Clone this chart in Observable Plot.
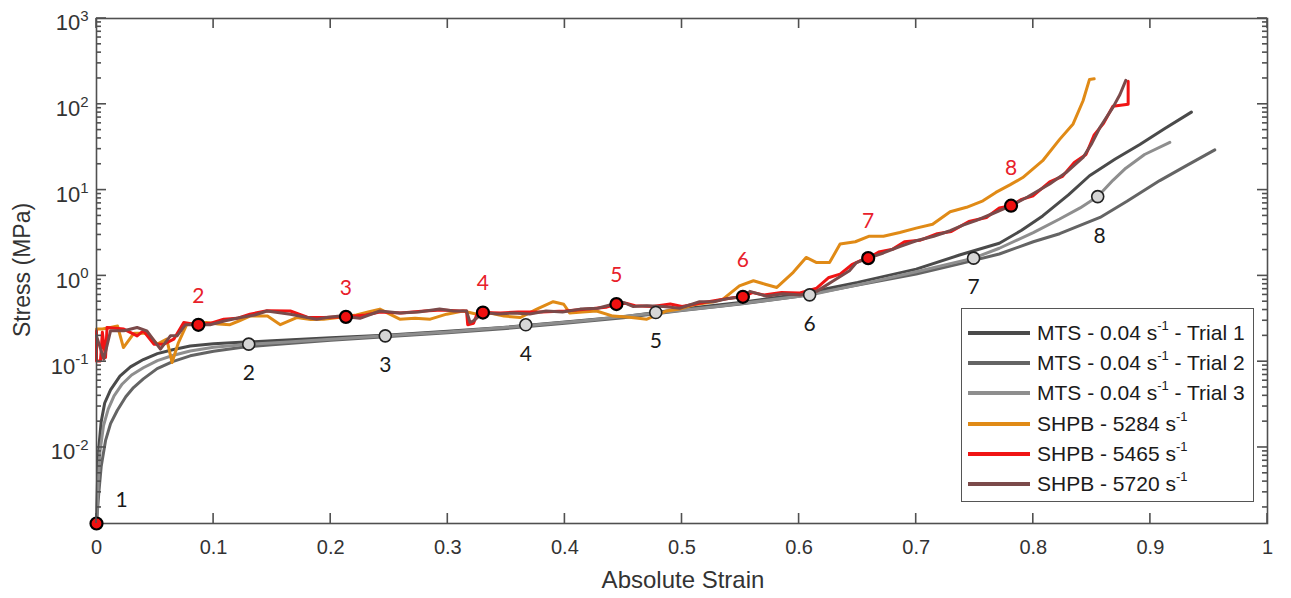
<!DOCTYPE html>
<html>
<head>
<meta charset="utf-8">
<script src="https://cdn.jsdelivr.net/npm/d3@7"></script>
<script src="https://cdn.jsdelivr.net/npm/@observablehq/plot@0.6"></script>
<style>
  body { margin: 0; background: #fff; }
  #wrap { position: relative; width: 1291px; height: 598px; font-family: "Liberation Sans", Arial, sans-serif; overflow: hidden; }
  #chart { position: absolute; left: 0; top: 0; }
  .legend { position: absolute; left: 961px; top: 308px; width: 293px; height: 194px; border: 1.5px solid #555; background: #fff; box-sizing: border-box; }
  .row { position: absolute; left: 0; height: 30px; display: flex; align-items: center; font-size: 21px; color: #1a1a1a; white-space: nowrap; }
  .sw { width: 62px; height: 4px; margin-left: 6px; margin-right: 7px; }
  .row sup { font-size: 13px; position: relative; top: -2px; vertical-align: top; line-height: 1; }
  .ylab { position: absolute; left: 22px; top: 270px; transform: translate(-50%, -50%) rotate(-90deg); font-size: 23px; color: #333; white-space: nowrap; }
  .xlab { position: absolute; left: 683px; top: 580px; transform: translate(-50%, -50%); font-size: 24px; color: #333; white-space: nowrap; }
</style>
</head>
<body>
<div id="wrap"><div id="chart"></div></div>
<script>
// ---------------- data ----------------
const xTicks = [0, 0.1, 0.2, 0.3, 0.4, 0.5, 0.6, 0.7, 0.8, 0.9, 1];
const yTickPowers = [-2, -1, 0, 1, 2, 3];
const yDomain = [0.0013, 1000];

const seriesNames = ["MTS - 0.04 s^-1 - Trial 1", "MTS - 0.04 s^-1 - Trial 2", "MTS - 0.04 s^-1 - Trial 3",
                     "SHPB - 5284 s^-1", "SHPB - 5465 s^-1", "SHPB - 5720 s^-1"];
const seriesColors = ["#4a4a4a", "#646464", "#8e8e8e", "#e08a16", "#f01414", "#7b4a4a"];

const mtsTrial1 = [[0,0.0013],[0.001,0.005],[0.002,0.01],[0.004,0.02],[0.007,0.033],[0.012,0.047],[0.02,0.068],[0.029,0.087],[0.04,0.106],[0.052,0.124],[0.065,0.138],[0.08,0.152],[0.1,0.162],[0.123,0.168],[0.15,0.175],[0.2,0.19],[0.25,0.205],[0.3,0.226],[0.35,0.252],[0.4,0.29],[0.45,0.335],[0.5,0.41],[0.55,0.49],[0.6,0.61],[0.65,0.84],[0.7,1.2],[0.737,1.75],[0.771,2.4],[0.79,3.4],[0.808,5.0],[0.83,8.8],[0.848,14.7],[0.87,23],[0.891,34],[0.912,52],[0.935,81]];
const mtsTrial2 = [[0,0.0013],[0.002,0.003],[0.004,0.006],[0.0077,0.012],[0.012,0.019],[0.0177,0.027],[0.025,0.039],[0.0316,0.05],[0.04,0.063],[0.0518,0.083],[0.065,0.1],[0.08,0.117],[0.1,0.132],[0.123,0.146],[0.15,0.158],[0.2,0.178],[0.25,0.196],[0.3,0.217],[0.35,0.244],[0.4,0.28],[0.45,0.325],[0.5,0.395],[0.55,0.47],[0.6,0.58],[0.65,0.78],[0.7,1.05],[0.737,1.38],[0.771,1.8],[0.8,2.5],[0.8225,3.1],[0.857,4.8],[0.88,7.4],[0.908,12.9],[0.93,19],[0.955,29.4]];
const mtsTrial3 = [[0,0.0013],[0.0015,0.004],[0.003,0.009],[0.006,0.018],[0.01,0.028],[0.015,0.04],[0.022,0.055],[0.03,0.07],[0.04,0.085],[0.052,0.103],[0.065,0.118],[0.08,0.133],[0.1,0.147],[0.13,0.16],[0.16,0.168],[0.2,0.183],[0.2466,0.2],[0.3,0.222],[0.3666,0.262],[0.42,0.305],[0.4776,0.37],[0.53,0.44],[0.609,0.6],[0.66,0.84],[0.7,1.12],[0.749,1.61],[0.771,2.1],[0.8,3.2],[0.8225,4.6],[0.84,6.2],[0.855,8.4],[0.868,13],[0.879,18],[0.895,26],[0.9166,36]];

const shpb5284 = [[0,0.24],[0.005,0.24],[0.012,0.25],[0.018,0.26],[0.023,0.146],[0.032,0.215],[0.043,0.215],[0.052,0.16],[0.060,0.183],[0.0645,0.098],[0.070,0.167],[0.077,0.27],[0.085,0.28],[0.094,0.286],[0.104,0.275],[0.114,0.27],[0.122,0.3],[0.131,0.34],[0.146,0.34],[0.157,0.27],[0.171,0.327],[0.183,0.31],[0.194,0.313],[0.208,0.33],[0.222,0.35],[0.232,0.38],[0.242,0.41],[0.25,0.36],[0.259,0.313],[0.272,0.32],[0.285,0.313],[0.299,0.358],[0.313,0.39],[0.324,0.36],[0.336,0.37],[0.348,0.34],[0.362,0.327],[0.376,0.41],[0.39,0.5],[0.399,0.467],[0.404,0.37],[0.415,0.38],[0.427,0.39],[0.441,0.34],[0.455,0.33],[0.47,0.313],[0.487,0.39],[0.498,0.41],[0.51,0.46],[0.527,0.5],[0.535,0.536],[0.549,0.766],[0.561,0.877],[0.571,0.8],[0.581,0.733],[0.595,1.1],[0.606,1.64],[0.615,1.43],[0.626,1.43],[0.635,2.35],[0.648,2.5],[0.66,2.9],[0.672,2.9],[0.686,3.2],[0.7,3.6],[0.714,4.0],[0.729,5.6],[0.743,6.3],[0.757,7.5],[0.768,9.4],[0.78,11.5],[0.791,14],[0.808,22],[0.8225,39],[0.834,59],[0.8425,110],[0.848,195],[0.852,198]];
const shpb5465 = [[0,0.229],[0,0.102],[0.0034,0.102],[0.005,0.22],[0.0077,0.112],[0.009,0.25],[0.0233,0.24],[0.0347,0.2],[0.04,0.229],[0.049,0.16],[0.0575,0.16],[0.066,0.183],[0.0745,0.286],[0.086,0.27],[0.097,0.28],[0.1087,0.313],[0.12,0.32],[0.131,0.358],[0.1456,0.392],[0.1655,0.39],[0.18,0.33],[0.194,0.327],[0.213,0.333],[0.23,0.35],[0.242,0.38],[0.26,0.37],[0.28,0.39],[0.295,0.4],[0.31,0.39],[0.316,0.39],[0.317,0.27],[0.322,0.28],[0.325,0.36],[0.33,0.374],[0.345,0.37],[0.36,0.38],[0.38,0.38],[0.4,0.39],[0.42,0.41],[0.435,0.43],[0.444,0.469],[0.452,0.48],[0.46,0.45],[0.475,0.44],[0.49,0.47],[0.5,0.44],[0.515,0.48],[0.53,0.52],[0.545,0.56],[0.552,0.57],[0.56,0.64],[0.57,0.6],[0.585,0.64],[0.6,0.63],[0.615,0.72],[0.625,0.95],[0.635,1.05],[0.645,1.35],[0.652,1.5],[0.659,1.61],[0.668,1.9],[0.68,2.05],[0.69,2.5],[0.703,2.6],[0.718,3.1],[0.73,3.3],[0.745,4.3],[0.76,4.8],[0.771,6.2],[0.781,6.58],[0.79,7.8],[0.8,8.6],[0.814,12.5],[0.825,14.5],[0.835,21],[0.845,26],[0.852,44],[0.86,60],[0.868,95],[0.881,100],[0.881,185]];
const shpb5720 = [[0,0.2],[0.0062,0.107],[0.012,0.229],[0.0233,0.229],[0.0347,0.25],[0.043,0.229],[0.0546,0.14],[0.0631,0.2],[0.0688,0.2],[0.076,0.27],[0.087,0.269],[0.097,0.27],[0.11,0.3],[0.123,0.327],[0.135,0.35],[0.1456,0.39],[0.1655,0.358],[0.188,0.313],[0.198,0.33],[0.208,0.34],[0.213,0.333],[0.225,0.32],[0.242,0.39],[0.259,0.37],[0.275,0.38],[0.293,0.41],[0.305,0.39],[0.316,0.39],[0.319,0.286],[0.322,0.3],[0.33,0.374],[0.343,0.36],[0.356,0.37],[0.37,0.36],[0.384,0.39],[0.398,0.38],[0.413,0.41],[0.428,0.42],[0.441,0.467],[0.45,0.49],[0.458,0.44],[0.47,0.45],[0.484,0.44],[0.498,0.42],[0.515,0.5],[0.527,0.5],[0.538,0.54],[0.552,0.57],[0.558,0.66],[0.572,0.58],[0.586,0.62],[0.601,0.6],[0.615,0.66],[0.629,0.87],[0.643,1.15],[0.649,1.43],[0.659,1.61],[0.672,1.85],[0.686,2.2],[0.7,2.57],[0.715,2.9],[0.729,3.36],[0.74,3.9],[0.751,4.4],[0.765,5.3],[0.781,6.58],[0.795,8.3],[0.814,11.8],[0.828,16],[0.8425,24],[0.85,35],[0.857,54],[0.868,92],[0.874,130],[0.879,190]];

const pointLabels = ["1", "2", "3", "4", "5", "6", "7", "8"];
const shpbPointStrain = [0, 0.087, 0.213, 0.330, 0.444, 0.552, 0.659, 0.781];
const shpbPointStress = [0.0013, 0.269, 0.333, 0.374, 0.469, 0.57, 1.61, 6.58];
const mtsPointStrain = [0, 0.130, 0.2466, 0.3666, 0.4776, 0.609, 0.749, 0.855];
const mtsPointStress = [0.0013, 0.160, 0.200, 0.269, 0.374, 0.601, 1.61, 8.4];

// ---------------- build ----------------
const W = 1291, H = 598, mL = 96, mR = 24, mT = 18, mB = 75;
const axisColor = "#505050";

const majorY = yTickPowers.map(p => Math.pow(10, p));
const minorY = [];
for (let p = -3; p < 3; p++) for (let k = 2; k <= 9; k++) {
  const v = k * Math.pow(10, p);
  if (v >= yDomain[0] && v <= yDomain[1]) minorY.push(v);
}

const allSeries = [mtsTrial1, mtsTrial2, mtsTrial3, shpb5284, shpb5465, shpb5720];
const lineMarks = allSeries.map((s, i) => Plot.line(s, {x: d => d[0], y: d => d[1], stroke: seriesColors[i], strokeWidth: 3, strokeLinejoin: "round"}));

const redPts = shpbPointStrain.map((x, i) => ({x, y: shpbPointStress[i], label: pointLabels[i], i}));
const grayPts = mtsPointStrain.map((x, i) => ({x, y: mtsPointStress[i], label: pointLabels[i], i}));

const labelFont = "Lato, 'Open Sans', sans-serif";

const chart = Plot.plot({
  width: W, height: H,
  marginLeft: mL, marginRight: mR, marginTop: mT, marginBottom: mB,
  style: {fontFamily: "'Liberation Sans', Arial, sans-serif", fontSize: "20px", color: "#333", background: "transparent"},
  x: {domain: [0, 1], label: null},
  y: {type: "log", domain: yDomain, label: null},
  marks: [
    Plot.axisX({ticks: xTicks, tickSize: 0, tickPadding: 16, tickFormat: d => String(+d.toFixed(1)), fontSize: 20, fill: "#333", label: null}),
    Plot.axisY({ticks: majorY, tickSize: 0, tickPadding: 8, tickFormat: d => "10^" + Math.round(Math.log10(d)), fontSize: 22, fill: "#333", label: null}),
    ...lineMarks,
    Plot.frame({stroke: axisColor, strokeWidth: 1.6}),
    Plot.dot(grayPts.filter(d => d.i > 0), {x: "x", y: "y", r: 6, fill: "#d6d6d6", stroke: "#222", strokeWidth: 1.6}),
    Plot.dot(redPts, {x: "x", y: "y", r: 6, fill: "#f01010", stroke: "#000", strokeWidth: 2.2}),
    Plot.text(redPts.filter(d => d.i >= 1 && d.i <= 4), {x: "x", y: "y", text: "label", dy: -29, fill: "#e8202a", fontSize: 21, fontFamily: labelFont}),
    Plot.text(redPts.filter(d => d.i >= 5), {x: "x", y: "y", text: "label", dy: -37, fill: "#e8202a", fontSize: 21, fontFamily: labelFont}),
    Plot.text(grayPts.filter(d => d.i >= 1 && d.i <= 6), {x: "x", y: "y", text: "label", dy: 29, fill: "#1a1a1a", fontSize: 21, fontFamily: labelFont}),
    Plot.text(grayPts.filter(d => d.i === 7), {x: "x", y: "y", text: "label", dy: 40, dx: 2, fill: "#1a1a1a", fontSize: 21, fontFamily: labelFont}),
    Plot.text(grayPts.filter(d => d.i === 0), {x: "x", y: "y", text: "label", dy: -23, dx: 25, fill: "#1a1a1a", fontSize: 21, fontFamily: labelFont})
  ]
});

// superscript exponents for log tick labels
d3.select(chart).selectAll('g[aria-label="y-axis tick label"] text').each(function () {
  const t = this.textContent;
  const m = t.match(/^10\^(.*)$/);
  if (!m) return;
  this.textContent = "";
  const sel = d3.select(this);
  sel.append("tspan").attr("dy", "0.22em").text("10");
  sel.append("tspan").attr("dy", "-0.62em").attr("font-size", "15px").text(m[1]);
});

// inward, mirrored tick marks positioned with the plot's own scales
(function addBoxTicks() {
  const sx = chart.scale("x"), sy = chart.scale("y");
  const [left, right] = sx.range;
  const [bottom, top] = sy.range;
  const svg = d3.select(chart.tagName.toLowerCase() === "svg" ? chart : chart.querySelector("svg"));
  const g = svg.append("g").attr("aria-label", "box ticks").attr("stroke", axisColor).attr("stroke-width", 1.6).attr("fill", "none");
  const add = (x1, y1, x2, y2) => g.append("line").attr("x1", x1).attr("y1", y1).attr("x2", x2).attr("y2", y2);
  for (const t of xTicks) {
    const px = sx.apply(t);
    add(px, bottom, px, bottom - 10);
    add(px, top, px, top + 10);
  }
  for (const [vals, len] of [[majorY, 10], [minorY, 5]]) {
    for (const t of vals) {
      const py = sy.apply(t);
      add(left, py, left + len, py);
      add(right, py, right - len, py);
    }
  }
})();

document.getElementById("chart").appendChild(chart);

// legend + axis titles (HTML overlay)
const wrap = document.getElementById("wrap");
const legend = document.createElement("div");
legend.className = "legend";
seriesNames.forEach((name, i) => {
  const row = document.createElement("div");
  row.className = "row";
  row.style.top = (24 + i * 30.2 - 15) + "px";
  const sw = document.createElement("div");
  sw.className = "sw";
  sw.style.background = seriesColors[i];
  row.appendChild(sw);
  const span = document.createElement("span");
  const parts = name.split("^");
  const rest = parts[1];
  const exp = rest.match(/^-?\d+/)[0];
  span.appendChild(document.createTextNode(parts[0]));
  const sup = document.createElement("sup");
  sup.textContent = exp;
  span.appendChild(sup);
  span.appendChild(document.createTextNode(rest.slice(exp.length)));
  row.appendChild(span);
  legend.appendChild(row);
});
wrap.appendChild(legend);

const ylab = document.createElement("div");
ylab.className = "ylab";
ylab.textContent = "Stress (MPa)";
wrap.appendChild(ylab);
const xlab = document.createElement("div");
xlab.className = "xlab";
xlab.textContent = "Absolute Strain";
wrap.appendChild(xlab);
</script>
</body>
</html>
